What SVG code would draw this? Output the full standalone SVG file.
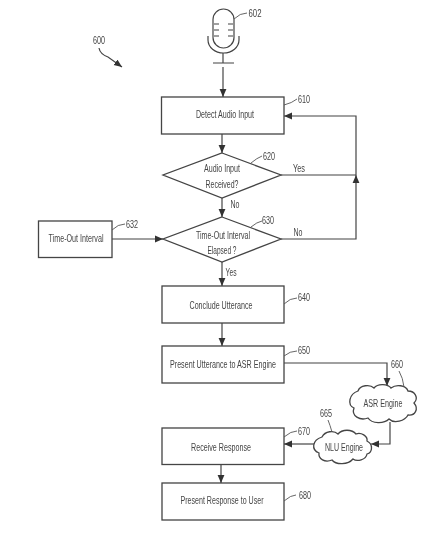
<svg xmlns="http://www.w3.org/2000/svg" width="440" height="542" viewBox="0 0 440 542">
<style>
.s{fill:#fff;stroke:#444;stroke-width:1.3}
.c{fill:none;stroke:#444;stroke-width:1.2}
.l{fill:none;stroke:#555;stroke-width:.9}
text{font-family:"Liberation Sans",Arial,sans-serif;font-size:11px;fill:#444;text-anchor:middle}
</style>
<defs>
<marker id="a" markerUnits="userSpaceOnUse" markerWidth="9" markerHeight="8" refX="8" refY="4" orient="auto"><path d="M0 0.600L8 4L0 7.400z" fill="#333"/></marker>
<filter id="b" x="-2%" y="-2%" width="104%" height="104%"><feGaussianBlur stdDeviation="0.4"/></filter>
</defs>
<rect width="440" height="542" fill="#fff"/>
<g filter="url(#b)">
<g id="connectors">
<path class="c" d="M223 67V97" marker-end="url(#a)"/>
<path class="c" d="M222 133V153" marker-end="url(#a)"/>
<path class="c" d="M222 198V217" marker-end="url(#a)"/>
<path class="c" d="M222 262V286" marker-end="url(#a)"/>
<path class="c" d="M222 323V346" marker-end="url(#a)"/>
<path class="c" d="M221 464V483" marker-end="url(#a)"/>
<path class="c" d="M112 239H163" marker-end="url(#a)"/>
<path class="c" d="M281 175H356"/>
<path class="c" d="M281 239H356V175" marker-end="url(#a)"/>
<path class="c" d="M356 175V116H284" marker-end="url(#a)"/>
<path class="c" d="M284 363H387V386" marker-end="url(#a)"/>
<path class="c" d="M390 422V444H371" marker-end="url(#a)"/>
<path class="c" d="M316 444H284" marker-end="url(#a)"/>
<path class="c" d="M99 48Q100 54 108 57L122 67" marker-end="url(#a)"/>
</g>
<g id="n600"><text x="99" y="44" textLength="12" lengthAdjust="spacingAndGlyphs">600</text></g>
<g id="n602"><rect class="c" x="213" y="9" width="21" height="39" rx="10.500"/>
<path class="c" d="M214 24H219M228 24H233M214 30H219M228 30H233M214 36H219M228 36H233"/>
<path class="c" d="M208 36V40A15.500 13 0 0 0 239 40V36M223 53V63M213 63H234"/>
<path class="l" d="M234 19Q240 13 247 13"/><text x="255" y="17" textLength="13" lengthAdjust="spacingAndGlyphs">602</text></g>
<g id="n610"><rect class="s" x="161.500" y="97" width="122.500" height="37"/><text x="225" y="118" textLength="58" lengthAdjust="spacingAndGlyphs">Detect Audio Input</text>
<path class="l" d="M284 105Q292 103 297 99"/><text x="304" y="103" textLength="12" lengthAdjust="spacingAndGlyphs">610</text></g>
<g id="n620"><path class="s" d="M222 153L281 175L222 198L163 175z"/><text x="222" y="172" textLength="36" lengthAdjust="spacingAndGlyphs">Audio Input</text><text x="222" y="188" textLength="33" lengthAdjust="spacingAndGlyphs">Received?</text>
<path class="l" d="M251 163Q257 158 262 156"/><text x="269" y="160" textLength="12" lengthAdjust="spacingAndGlyphs">620</text></g>
<text x="299" y="172" textLength="12" lengthAdjust="spacingAndGlyphs">Yes</text>
<text x="235" y="208" textLength="9" lengthAdjust="spacingAndGlyphs">No</text>
<g id="n630"><path class="s" d="M222 217L281 239L222 262L163 239z"/><text x="223" y="239" textLength="54" lengthAdjust="spacingAndGlyphs">Time-Out Interval</text><text x="222" y="254" textLength="29" lengthAdjust="spacingAndGlyphs">Elapsed ?</text>
<path class="l" d="M251 227Q257 222 262 221"/><text x="268" y="224" textLength="12" lengthAdjust="spacingAndGlyphs">630</text></g>
<text x="298" y="236" textLength="9" lengthAdjust="spacingAndGlyphs">No</text>
<text x="231" y="276" textLength="11" lengthAdjust="spacingAndGlyphs">Yes</text>
<g id="n632"><rect class="s" x="38.500" y="221" width="73.500" height="36.500"/><text x="76" y="242" textLength="55" lengthAdjust="spacingAndGlyphs">Time-Out Interval</text>
<path class="l" d="M112 230Q118 224 125 224"/><text x="132" y="228" textLength="12" lengthAdjust="spacingAndGlyphs">632</text></g>
<g id="n640"><rect class="s" x="162" y="286" width="122" height="37"/><text x="221" y="309" textLength="63" lengthAdjust="spacingAndGlyphs">Conclude Utterance</text>
<path class="l" d="M284 304Q290 298 297 298"/><text x="304" y="301" textLength="12" lengthAdjust="spacingAndGlyphs">640</text></g>
<g id="n650"><rect class="s" x="162" y="346" width="122" height="37"/><text x="223" y="368" textLength="106" lengthAdjust="spacingAndGlyphs">Present Utterance to ASR Engine</text>
<path class="l" d="M284 356Q290 351 297 351"/><text x="304" y="354" textLength="12" lengthAdjust="spacingAndGlyphs">650</text></g>
<g id="n660"><path class="s" d="M358 391C360 385 370 384 374 388C378 383 388 384 391 388C396 384 406 385 408 391C415 391 419 398 414 403C419 409 415 416 408 415C405 421 394 424 389 419C384 424 372 424 368 418C360 421 351 416 354 408C347 405 349 394 358 391z"/><text x="383" y="407" textLength="39" lengthAdjust="spacingAndGlyphs">ASR Engine</text>
<path class="l" d="M404 387Q403 378 399 371"/><text x="397" y="368" textLength="12" lengthAdjust="spacingAndGlyphs">660</text></g>
<g id="n665"><path class="s" d="M322 437C325 431 334 430 338 434C342 429 352 429 356 434C361 432 368 436 367 441C373 444 373 452 367 454C366 460 357 462 353 459C348 465 336 465 332 460C325 463 318 459 319 453C311 450 312 440 322 437z"/><text x="344" y="451" textLength="38" lengthAdjust="spacingAndGlyphs">NLU Engine</text>
<path class="l" d="M332 432Q330 425 328 420"/><text x="326" y="417" textLength="12" lengthAdjust="spacingAndGlyphs">665</text></g>
<g id="n670"><rect class="s" x="162" y="428" width="122" height="36.500"/><text x="221" y="451" textLength="60" lengthAdjust="spacingAndGlyphs">Receive Response</text>
<path class="l" d="M284 437Q291 431 297 431"/><text x="304" y="435" textLength="12" lengthAdjust="spacingAndGlyphs">670</text></g>
<g id="n680"><rect class="s" x="162" y="483" width="122" height="37"/><text x="222" y="504" textLength="83" lengthAdjust="spacingAndGlyphs">Present Response to User</text>
<path class="l" d="M284 501Q291 495 296 495"/><text x="305" y="499" textLength="12" lengthAdjust="spacingAndGlyphs">680</text></g>
</g>
</svg>
